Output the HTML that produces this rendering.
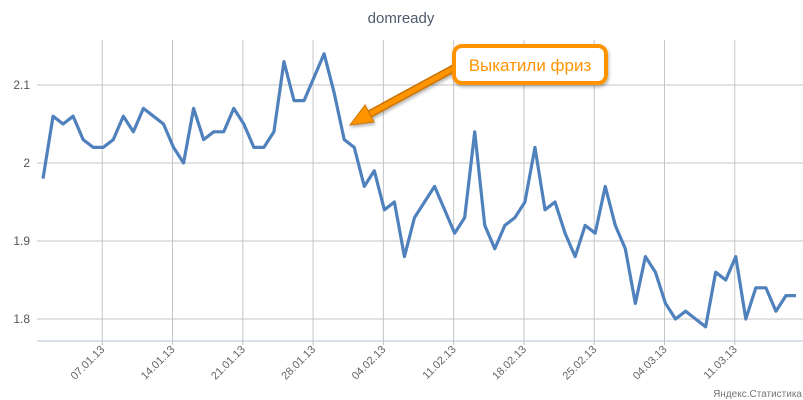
<!DOCTYPE html>
<html><head><meta charset="utf-8"><style>
body{margin:0;background:#fff;}
svg{display:block;font-family:"Liberation Sans","DejaVu Sans",sans-serif;}
</style></head><body>
<svg width="803" height="400">
<defs><filter id="sh" x="-20%" y="-20%" width="140%" height="140%"><feDropShadow dx="1" dy="2" stdDeviation="1.5" flood-color="#000" flood-opacity="0.3"/></filter></defs>
<text x="401" y="23" text-anchor="middle" font-size="15" fill="#4d5b6b">domready</text>
<g id="grid"></g>
<g id="ylabels"></g>
<g id="xlabels"></g>
<line x1="37" y1="341" x2="803" y2="341" stroke="#b6c3d6" stroke-width="1"/>
<polyline id="series" fill="none" stroke="#4f81bd" stroke-width="3.2" stroke-linejoin="round"/>
<g filter="url(#sh)">
<line x1="458" y1="66" x2="366" y2="116" stroke="#c87200" stroke-width="8" stroke-linecap="round"/>
<line x1="458" y1="66" x2="366" y2="116" stroke="#ff9400" stroke-width="5" stroke-linecap="round"/>
<polygon points="350,125 365,105 374,122" fill="#ff9400" stroke="#c87200" stroke-width="1"/>
</g>
<g filter="url(#sh)">
<rect x="454" y="46" width="152" height="37" rx="8" fill="#fff" stroke="#ff9400" stroke-width="4"/>
<text x="530" y="71" text-anchor="middle" font-size="17" fill="#ff9400">Выкатили фриз</text>
</g>
<text x="802" y="397" text-anchor="end" font-size="10" fill="#777">Яндекс.Статистика</text>
</svg>
<script>
const values=[1.98,2.06,2.05,2.06,2.03,2.02,2.02,2.03,2.06,2.04,2.07,2.06,2.05,2.02,2.00,2.07,2.03,2.04,2.04,2.07,2.05,2.02,2.02,2.04,2.13,2.08,2.08,2.11,2.14,2.09,2.03,2.02,1.97,1.99,1.94,1.95,1.88,1.93,1.95,1.97,1.94,1.91,1.93,2.04,1.92,1.89,1.92,1.93,1.95,2.02,1.94,1.95,1.91,1.88,1.92,1.91,1.97,1.92,1.89,1.82,1.88,1.86,1.82,1.80,1.81,1.80,1.79,1.86,1.85,1.88,1.80,1.84,1.84,1.81,1.83,1.83];
const yTicks=[1.8,1.9,2,2.1];
const yTickLabels=["1.8","1.9","2","2.1"];
const xTickIdx=[6,13,20,27,34,41,48,55,62,69];
const xTickLabels=["07.01.13","14.01.13","21.01.13","28.01.13","04.02.13","11.02.13","18.02.13","25.02.13","04.03.13","11.03.13"];
const xs=i=>43+i*10.04;
const ys=v=>163-(v-2)*780;
const NS="http://www.w3.org/2000/svg";
const grid=document.getElementById('grid'),yl=document.getElementById('ylabels'),xl=document.getElementById('xlabels');
yTicks.forEach((t,k)=>{
 const l=document.createElementNS(NS,'line');
 l.setAttribute('x1',37);l.setAttribute('x2',803);l.setAttribute('y1',ys(t));l.setAttribute('y2',ys(t));
 l.setAttribute('stroke','#c4c4c4');
 
 
 grid.appendChild(l);
 const tx=document.createElementNS(NS,'text');
 tx.setAttribute('x',30);tx.setAttribute('y',ys(t)+4);tx.setAttribute('text-anchor','end');
 tx.setAttribute('font-size','12');tx.setAttribute('fill','#555');
 tx.textContent=yTickLabels[k];
 
 
 yl.appendChild(tx);
});
xTickIdx.forEach((i,k)=>{
 const x=xs(i)-1;
 const l=document.createElementNS(NS,'line');
 l.setAttribute('x1',x);l.setAttribute('x2',x);l.setAttribute('y1',40);l.setAttribute('y2',345);
 l.setAttribute('stroke','#c4c4c4');
 
 
 grid.appendChild(l);
 const tx=document.createElementNS(NS,'text');
 tx.setAttribute('transform','translate('+(x+3)+',350) rotate(-45)');
 tx.setAttribute('text-anchor','end');
 tx.setAttribute('font-size','11');tx.setAttribute('fill','#666');
 tx.textContent=xTickLabels[k];
 
 
 xl.appendChild(tx);
});
document.getElementById('series').setAttribute('points',values.map((v,i)=>xs(i)+','+ys(v)).join(' '));
</script>
</body></html>
